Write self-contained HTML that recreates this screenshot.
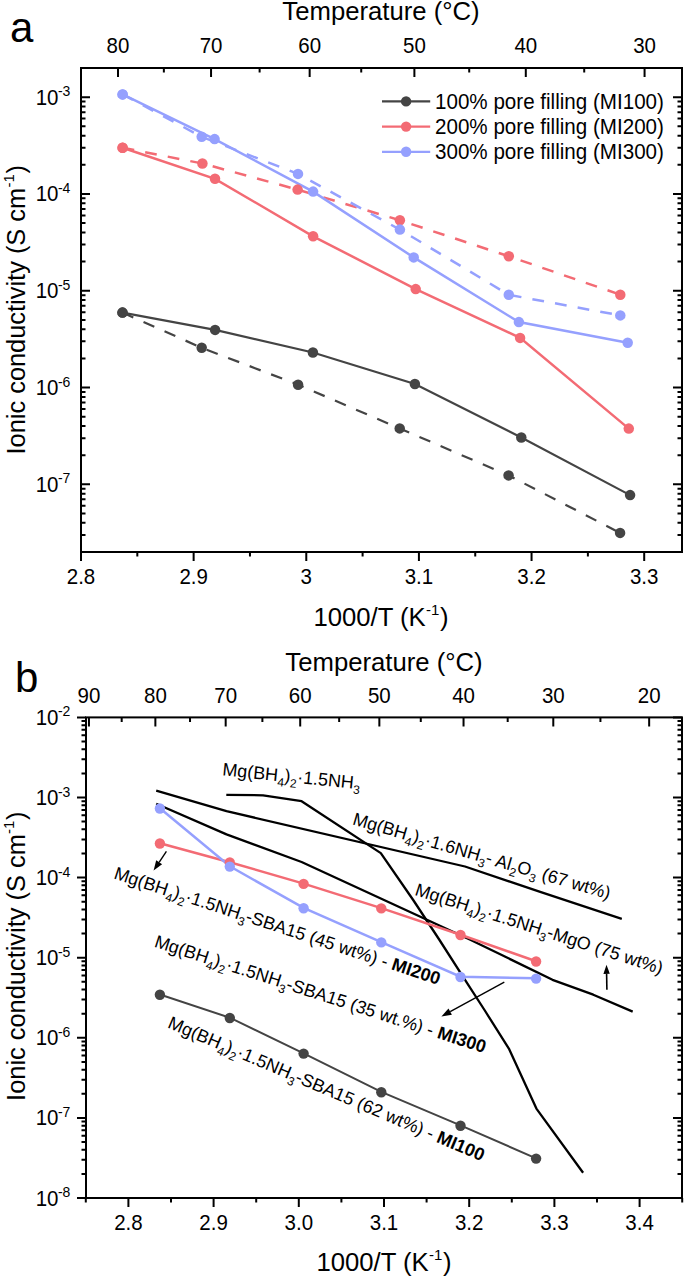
<!DOCTYPE html>
<html><head><meta charset="utf-8"><style>
html,body{margin:0;padding:0;background:#fff;}
svg{display:block;}
text{font-family:"Liberation Sans", sans-serif;fill:#000;}
.tl{font-size:20.5px;}
.sup{font-size:14px;}
.supt{font-size:15px;}
.ti{font-size:25.7px;}
.leg{font-size:20.6px;}
.panel{font-size:42px;}
.ann{font-size:17.95px;}
.sub{font-size:12px;}
</style></head><body>
<svg width="685" height="1278" viewBox="0 0 685 1278">
<rect width="685" height="1278" fill="#fff"/>
<rect x="81" y="68" width="601" height="484" fill="none" stroke="#000" stroke-width="2"/>
<path d="M81.00 552 v9 M137.32 552 v4.5 M193.64 552 v9 M249.96 552 v4.5 M306.28 552 v9 M362.60 552 v4.5 M418.92 552 v9 M475.24 552 v4.5 M531.56 552 v9 M587.88 552 v4.5 M644.20 552 v9 M118.01 68 v9 M163.86 68 v4.5 M211.05 68 v9 M259.62 68 v4.5 M309.66 68 v9 M361.23 68 v4.5 M414.39 68 v9 M469.22 68 v4.5 M525.80 68 v9 M584.22 68 v4.5 M644.57 68 v9 M81 552.00 h4.5 M682 552.00 h-4.5 M81 534.95 h4.5 M682 534.95 h-4.5 M81 522.86 h4.5 M682 522.86 h-4.5 M81 513.48 h4.5 M682 513.48 h-4.5 M81 505.81 h4.5 M682 505.81 h-4.5 M81 499.33 h4.5 M682 499.33 h-4.5 M81 493.72 h4.5 M682 493.72 h-4.5 M81 488.77 h4.5 M682 488.77 h-4.5 M81 484.34 h9 M682 484.34 h-9 M81 455.20 h4.5 M682 455.20 h-4.5 M81 438.15 h4.5 M682 438.15 h-4.5 M81 426.06 h4.5 M682 426.06 h-4.5 M81 416.68 h4.5 M682 416.68 h-4.5 M81 409.01 h4.5 M682 409.01 h-4.5 M81 402.53 h4.5 M682 402.53 h-4.5 M81 396.92 h4.5 M682 396.92 h-4.5 M81 391.97 h4.5 M682 391.97 h-4.5 M81 387.54 h9 M682 387.54 h-9 M81 358.40 h4.5 M682 358.40 h-4.5 M81 341.35 h4.5 M682 341.35 h-4.5 M81 329.26 h4.5 M682 329.26 h-4.5 M81 319.88 h4.5 M682 319.88 h-4.5 M81 312.21 h4.5 M682 312.21 h-4.5 M81 305.73 h4.5 M682 305.73 h-4.5 M81 300.12 h4.5 M682 300.12 h-4.5 M81 295.17 h4.5 M682 295.17 h-4.5 M81 290.74 h9 M682 290.74 h-9 M81 261.60 h4.5 M682 261.60 h-4.5 M81 244.55 h4.5 M682 244.55 h-4.5 M81 232.46 h4.5 M682 232.46 h-4.5 M81 223.08 h4.5 M682 223.08 h-4.5 M81 215.41 h4.5 M682 215.41 h-4.5 M81 208.93 h4.5 M682 208.93 h-4.5 M81 203.32 h4.5 M682 203.32 h-4.5 M81 198.37 h4.5 M682 198.37 h-4.5 M81 193.94 h9 M682 193.94 h-9 M81 164.80 h4.5 M682 164.80 h-4.5 M81 147.75 h4.5 M682 147.75 h-4.5 M81 135.66 h4.5 M682 135.66 h-4.5 M81 126.28 h4.5 M682 126.28 h-4.5 M81 118.61 h4.5 M682 118.61 h-4.5 M81 112.13 h4.5 M682 112.13 h-4.5 M81 106.52 h4.5 M682 106.52 h-4.5 M81 101.57 h4.5 M682 101.57 h-4.5 M81 97.14 h9 M682 97.14 h-9 M81 68.00 h4.5 M682 68.00 h-4.5" stroke="#000" stroke-width="2" fill="none"/>
<text transform="translate(81.00,584) scale(1,1.06)" text-anchor="middle" class="tl">2.8</text>
<text transform="translate(193.64,584) scale(1,1.06)" text-anchor="middle" class="tl">2.9</text>
<text transform="translate(306.28,584) scale(1,1.06)" text-anchor="middle" class="tl">3</text>
<text transform="translate(418.92,584) scale(1,1.06)" text-anchor="middle" class="tl">3.1</text>
<text transform="translate(531.56,584) scale(1,1.06)" text-anchor="middle" class="tl">3.2</text>
<text transform="translate(644.20,584) scale(1,1.06)" text-anchor="middle" class="tl">3.3</text>
<text transform="translate(118.01,53.3) scale(1,1.06)" text-anchor="middle" class="tl">80</text>
<text transform="translate(211.05,53.3) scale(1,1.06)" text-anchor="middle" class="tl">70</text>
<text transform="translate(309.66,53.3) scale(1,1.06)" text-anchor="middle" class="tl">60</text>
<text transform="translate(414.39,53.3) scale(1,1.06)" text-anchor="middle" class="tl">50</text>
<text transform="translate(525.80,53.3) scale(1,1.06)" text-anchor="middle" class="tl">40</text>
<text transform="translate(644.57,53.3) scale(1,1.06)" text-anchor="middle" class="tl">30</text>
<text transform="translate(35.7,491.84) scale(1,1.06)" class="tl">10<tspan class="sup" dx="-0.6" dy="-8">-7</tspan></text>
<text transform="translate(35.7,395.04) scale(1,1.06)" class="tl">10<tspan class="sup" dx="-0.6" dy="-8">-6</tspan></text>
<text transform="translate(35.7,298.24) scale(1,1.06)" class="tl">10<tspan class="sup" dx="-0.6" dy="-8">-5</tspan></text>
<text transform="translate(35.7,201.44) scale(1,1.06)" class="tl">10<tspan class="sup" dx="-0.6" dy="-8">-4</tspan></text>
<text transform="translate(35.7,104.64) scale(1,1.06)" class="tl">10<tspan class="sup" dx="-0.6" dy="-8">-3</tspan></text>
<text x="381" y="20" text-anchor="middle" class="ti">Temperature (°C)</text>
<text x="381" y="625.5" text-anchor="middle" class="ti">1000/T (K<tspan class="supt" dx="0.3" dy="-10.8">-1</tspan><tspan dx="0.6" dy="10.8">)</tspan></text>
<text transform="translate(25,309.8) rotate(-90)" text-anchor="middle" class="ti" style="font-size:25.4px">Ionic conductivity (S cm<tspan class="supt" dx="0.3" dy="-10.8">-1</tspan><tspan dx="0.6" dy="10.8">)</tspan></text>
<text x="10" y="42" class="panel">a</text>
<polyline points="122.5,312.6 215.1,329.9 312.9,352.5 414.9,384.0 521.3,437.5 630.1,495.1" fill="none" stroke="#444444" stroke-width="2.2"/>
<polyline points="122.5,312.6 201.7,347.8 298.1,384.7 399.7,428.4 508.6,475.4 620.1,532.9" fill="none" stroke="#444444" stroke-width="2.2" stroke-dasharray="11.8 11.2"/>
<polyline points="122.6,147.7 215.0,178.8 313.1,236.3 415.7,289.1 520.1,337.9 628.8,428.6" fill="none" stroke="#F36B74" stroke-width="2.5"/>
<polyline points="122.6,147.7 202.4,163.5 297.6,189.6 399.9,220.3 508.8,256.3 620.3,294.7" fill="none" stroke="#F36B74" stroke-width="2.5" stroke-dasharray="11.8 11.2"/>
<polyline points="122.6,94.4 214.6,139.1 313.1,191.6 413.7,257.4 518.9,322.1 627.7,342.7" fill="none" stroke="#95A0FE" stroke-width="2.5"/>
<polyline points="122.6,94.4 201.7,136.8 298.0,173.9 399.9,229.6 508.8,294.8 620.3,315.4" fill="none" stroke="#95A0FE" stroke-width="2.5" stroke-dasharray="11.8 11.2"/>
<circle cx="122.5" cy="312.6" r="5.25" fill="#444444"/>
<circle cx="215.1" cy="329.9" r="5.25" fill="#444444"/>
<circle cx="312.9" cy="352.5" r="5.25" fill="#444444"/>
<circle cx="414.9" cy="384.0" r="5.25" fill="#444444"/>
<circle cx="521.3" cy="437.5" r="5.25" fill="#444444"/>
<circle cx="630.1" cy="495.1" r="5.25" fill="#444444"/>
<circle cx="122.5" cy="312.6" r="5.25" fill="#444444"/>
<circle cx="201.7" cy="347.8" r="5.25" fill="#444444"/>
<circle cx="298.1" cy="384.7" r="5.25" fill="#444444"/>
<circle cx="399.7" cy="428.4" r="5.25" fill="#444444"/>
<circle cx="508.6" cy="475.4" r="5.25" fill="#444444"/>
<circle cx="620.1" cy="532.9" r="5.25" fill="#444444"/>
<circle cx="122.6" cy="147.7" r="5.25" fill="#F36B74"/>
<circle cx="215.0" cy="178.8" r="5.25" fill="#F36B74"/>
<circle cx="313.1" cy="236.3" r="5.25" fill="#F36B74"/>
<circle cx="415.7" cy="289.1" r="5.25" fill="#F36B74"/>
<circle cx="520.1" cy="337.9" r="5.25" fill="#F36B74"/>
<circle cx="628.8" cy="428.6" r="5.25" fill="#F36B74"/>
<circle cx="122.6" cy="147.7" r="5.25" fill="#F36B74"/>
<circle cx="202.4" cy="163.5" r="5.25" fill="#F36B74"/>
<circle cx="297.6" cy="189.6" r="5.25" fill="#F36B74"/>
<circle cx="399.9" cy="220.3" r="5.25" fill="#F36B74"/>
<circle cx="508.8" cy="256.3" r="5.25" fill="#F36B74"/>
<circle cx="620.3" cy="294.7" r="5.25" fill="#F36B74"/>
<circle cx="122.6" cy="94.4" r="5.25" fill="#95A0FE"/>
<circle cx="214.6" cy="139.1" r="5.25" fill="#95A0FE"/>
<circle cx="313.1" cy="191.6" r="5.25" fill="#95A0FE"/>
<circle cx="413.7" cy="257.4" r="5.25" fill="#95A0FE"/>
<circle cx="518.9" cy="322.1" r="5.25" fill="#95A0FE"/>
<circle cx="627.7" cy="342.7" r="5.25" fill="#95A0FE"/>
<circle cx="122.6" cy="94.4" r="5.25" fill="#95A0FE"/>
<circle cx="201.7" cy="136.8" r="5.25" fill="#95A0FE"/>
<circle cx="298.0" cy="173.9" r="5.25" fill="#95A0FE"/>
<circle cx="399.9" cy="229.6" r="5.25" fill="#95A0FE"/>
<circle cx="508.8" cy="294.8" r="5.25" fill="#95A0FE"/>
<circle cx="620.3" cy="315.4" r="5.25" fill="#95A0FE"/>
<line x1="382" y1="101.4" x2="430.2" y2="101.4" stroke="#444444" stroke-width="2.2"/>
<circle cx="406.1" cy="101.4" r="5.2" fill="#444444"/>
<text transform="translate(435,108.6) scale(1,1.06)" class="leg">100% pore filling (MI100)</text>
<line x1="382" y1="126.6" x2="430.2" y2="126.6" stroke="#F36B74" stroke-width="2.2"/>
<circle cx="406.1" cy="126.6" r="5.2" fill="#F36B74"/>
<text transform="translate(435,133.8) scale(1,1.06)" class="leg">200% pore filling (MI200)</text>
<line x1="382" y1="151.8" x2="430.2" y2="151.8" stroke="#95A0FE" stroke-width="2.2"/>
<circle cx="406.1" cy="151.8" r="5.2" fill="#95A0FE"/>
<text transform="translate(435,159.0) scale(1,1.06)" class="leg">300% pore filling (MI300)</text>
<rect x="86" y="717.4" width="596" height="480.6" fill="none" stroke="#000" stroke-width="2"/>
<path d="M85.80 1198 v4.5 M128.40 1198 v9 M171.00 1198 v4.5 M213.60 1198 v9 M256.20 1198 v4.5 M298.80 1198 v9 M341.40 1198 v4.5 M384.00 1198 v9 M426.60 1198 v4.5 M469.20 1198 v9 M511.80 1198 v4.5 M554.40 1198 v9 M597.00 1198 v4.5 M639.60 1198 v9 M682.20 1198 v4.5 M88.94 717.4 v9 M121.69 717.4 v4.5 M155.37 717.4 v9 M190.02 717.4 v4.5 M225.68 717.4 v9 M262.39 717.4 v4.5 M300.21 717.4 v9 M339.17 717.4 v4.5 M379.35 717.4 v9 M420.78 717.4 v4.5 M463.54 717.4 v9 M507.69 717.4 v4.5 M553.29 717.4 v9 M600.42 717.4 v4.5 M649.16 717.4 v9 M86 1198.00 h-9 M682 1198.00 h-9 M86 1173.89 h-4.5 M682 1173.89 h-4.5 M86 1159.78 h-4.5 M682 1159.78 h-4.5 M86 1149.77 h-4.5 M682 1149.77 h-4.5 M86 1142.01 h-4.5 M682 1142.01 h-4.5 M86 1135.67 h-4.5 M682 1135.67 h-4.5 M86 1130.31 h-4.5 M682 1130.31 h-4.5 M86 1125.66 h-4.5 M682 1125.66 h-4.5 M86 1121.57 h-4.5 M682 1121.57 h-4.5 M86 1117.90 h-9 M682 1117.90 h-9 M86 1093.79 h-4.5 M682 1093.79 h-4.5 M86 1079.68 h-4.5 M682 1079.68 h-4.5 M86 1069.67 h-4.5 M682 1069.67 h-4.5 M86 1061.91 h-4.5 M682 1061.91 h-4.5 M86 1055.57 h-4.5 M682 1055.57 h-4.5 M86 1050.21 h-4.5 M682 1050.21 h-4.5 M86 1045.56 h-4.5 M682 1045.56 h-4.5 M86 1041.47 h-4.5 M682 1041.47 h-4.5 M86 1037.80 h-9 M682 1037.80 h-9 M86 1013.69 h-4.5 M682 1013.69 h-4.5 M86 999.58 h-4.5 M682 999.58 h-4.5 M86 989.57 h-4.5 M682 989.57 h-4.5 M86 981.81 h-4.5 M682 981.81 h-4.5 M86 975.47 h-4.5 M682 975.47 h-4.5 M86 970.11 h-4.5 M682 970.11 h-4.5 M86 965.46 h-4.5 M682 965.46 h-4.5 M86 961.37 h-4.5 M682 961.37 h-4.5 M86 957.70 h-9 M682 957.70 h-9 M86 933.59 h-4.5 M682 933.59 h-4.5 M86 919.48 h-4.5 M682 919.48 h-4.5 M86 909.47 h-4.5 M682 909.47 h-4.5 M86 901.71 h-4.5 M682 901.71 h-4.5 M86 895.37 h-4.5 M682 895.37 h-4.5 M86 890.01 h-4.5 M682 890.01 h-4.5 M86 885.36 h-4.5 M682 885.36 h-4.5 M86 881.27 h-4.5 M682 881.27 h-4.5 M86 877.60 h-9 M682 877.60 h-9 M86 853.49 h-4.5 M682 853.49 h-4.5 M86 839.38 h-4.5 M682 839.38 h-4.5 M86 829.37 h-4.5 M682 829.37 h-4.5 M86 821.61 h-4.5 M682 821.61 h-4.5 M86 815.27 h-4.5 M682 815.27 h-4.5 M86 809.91 h-4.5 M682 809.91 h-4.5 M86 805.26 h-4.5 M682 805.26 h-4.5 M86 801.17 h-4.5 M682 801.17 h-4.5 M86 797.50 h-9 M682 797.50 h-9 M86 773.39 h-4.5 M682 773.39 h-4.5 M86 759.28 h-4.5 M682 759.28 h-4.5 M86 749.27 h-4.5 M682 749.27 h-4.5 M86 741.51 h-4.5 M682 741.51 h-4.5 M86 735.17 h-4.5 M682 735.17 h-4.5 M86 729.81 h-4.5 M682 729.81 h-4.5 M86 725.16 h-4.5 M682 725.16 h-4.5 M86 721.07 h-4.5 M682 721.07 h-4.5 M86 717.40 h-9 M682 717.40 h-9" stroke="#000" stroke-width="2" fill="none"/>
<text transform="translate(128.40,1229.5) scale(1,1.06)" text-anchor="middle" class="tl">2.8</text>
<text transform="translate(213.60,1229.5) scale(1,1.06)" text-anchor="middle" class="tl">2.9</text>
<text transform="translate(298.80,1229.5) scale(1,1.06)" text-anchor="middle" class="tl">3.0</text>
<text transform="translate(384.00,1229.5) scale(1,1.06)" text-anchor="middle" class="tl">3.1</text>
<text transform="translate(469.20,1229.5) scale(1,1.06)" text-anchor="middle" class="tl">3.2</text>
<text transform="translate(554.40,1229.5) scale(1,1.06)" text-anchor="middle" class="tl">3.3</text>
<text transform="translate(639.60,1229.5) scale(1,1.06)" text-anchor="middle" class="tl">3.4</text>
<text transform="translate(88.94,702.6) scale(1,1.06)" text-anchor="middle" class="tl">90</text>
<text transform="translate(155.37,702.6) scale(1,1.06)" text-anchor="middle" class="tl">80</text>
<text transform="translate(225.68,702.6) scale(1,1.06)" text-anchor="middle" class="tl">70</text>
<text transform="translate(300.21,702.6) scale(1,1.06)" text-anchor="middle" class="tl">60</text>
<text transform="translate(379.35,702.6) scale(1,1.06)" text-anchor="middle" class="tl">50</text>
<text transform="translate(463.54,702.6) scale(1,1.06)" text-anchor="middle" class="tl">40</text>
<text transform="translate(553.29,702.6) scale(1,1.06)" text-anchor="middle" class="tl">30</text>
<text transform="translate(649.16,702.6) scale(1,1.06)" text-anchor="middle" class="tl">20</text>
<text transform="translate(35.7,1205.50) scale(1,1.06)" class="tl">10<tspan class="sup" dx="-0.6" dy="-8">-8</tspan></text>
<text transform="translate(35.7,1125.40) scale(1,1.06)" class="tl">10<tspan class="sup" dx="-0.6" dy="-8">-7</tspan></text>
<text transform="translate(35.7,1045.30) scale(1,1.06)" class="tl">10<tspan class="sup" dx="-0.6" dy="-8">-6</tspan></text>
<text transform="translate(35.7,965.20) scale(1,1.06)" class="tl">10<tspan class="sup" dx="-0.6" dy="-8">-5</tspan></text>
<text transform="translate(35.7,885.10) scale(1,1.06)" class="tl">10<tspan class="sup" dx="-0.6" dy="-8">-4</tspan></text>
<text transform="translate(35.7,805.00) scale(1,1.06)" class="tl">10<tspan class="sup" dx="-0.6" dy="-8">-3</tspan></text>
<text transform="translate(35.7,724.90) scale(1,1.06)" class="tl">10<tspan class="sup" dx="-0.6" dy="-8">-2</tspan></text>
<text x="384" y="670.5" text-anchor="middle" class="ti">Temperature (°C)</text>
<text x="384" y="1270.8" text-anchor="middle" class="ti">1000/T (K<tspan class="supt" dx="0.3" dy="-10.8">-1</tspan><tspan dx="0.6" dy="10.8">)</tspan></text>
<text transform="translate(25,956.2) rotate(-90)" text-anchor="middle" class="ti" style="font-size:25.4px">Ionic conductivity (S cm<tspan class="supt" dx="0.3" dy="-10.8">-1</tspan><tspan dx="0.6" dy="10.8">)</tspan></text>
<text x="15" y="691.6" class="panel">b</text>
<polyline points="156.2,790.6 226.5,811.2 465.0,866.5 540.2,891.9 621.8,918.8" fill="none" stroke="#000" stroke-width="2.3" stroke-linejoin="round"/>
<polyline points="156.2,803.7 226.5,834.4 301.6,862.0 469.2,939.2 552.5,979.8 593.3,994.7 632.7,1011.6" fill="none" stroke="#000" stroke-width="2.3" stroke-linejoin="round"/>
<polyline points="226.3,794.9 263.1,795.3 301.6,801.2 380.8,853.1 413.2,900.0 439.5,940.0 464.7,979.3 484.5,1010.0 509.2,1049.2 536.4,1108.6 583.1,1172.8" fill="none" stroke="#000" stroke-width="2.3" stroke-linejoin="round"/>
<polyline points="159.9,994.5 229.8,1017.7 303.6,1053.3 381.3,1091.9 460.5,1125.4 536.1,1158.3" fill="none" stroke="#444444" stroke-width="2.0"/>
<polyline points="159.9,843.2 229.8,862.2 303.6,883.6 381.3,908.1 460.5,934.7 536.1,961.2" fill="none" stroke="#F36B74" stroke-width="2.5"/>
<polyline points="159.9,808.2 229.8,866.3 303.6,907.9 381.3,942.1 460.5,976.7 536.1,978.3" fill="none" stroke="#95A0FE" stroke-width="2.5"/>
<circle cx="159.9" cy="994.8" r="5.2" fill="#444444"/>
<circle cx="229.8" cy="1018.0" r="5.2" fill="#444444"/>
<circle cx="303.6" cy="1053.6" r="5.2" fill="#444444"/>
<circle cx="381.3" cy="1092.2" r="5.2" fill="#444444"/>
<circle cx="460.5" cy="1125.7" r="5.2" fill="#444444"/>
<circle cx="536.1" cy="1158.6" r="5.2" fill="#444444"/>
<circle cx="159.9" cy="843.5" r="5.2" fill="#F36B74"/>
<circle cx="229.8" cy="862.5" r="5.2" fill="#F36B74"/>
<circle cx="303.6" cy="883.9" r="5.2" fill="#F36B74"/>
<circle cx="381.3" cy="908.4" r="5.2" fill="#F36B74"/>
<circle cx="460.5" cy="935.0" r="5.2" fill="#F36B74"/>
<circle cx="536.1" cy="961.5" r="5.2" fill="#F36B74"/>
<circle cx="159.9" cy="808.5" r="5.2" fill="#95A0FE"/>
<circle cx="229.8" cy="866.6" r="5.2" fill="#95A0FE"/>
<circle cx="303.6" cy="908.2" r="5.2" fill="#95A0FE"/>
<circle cx="381.3" cy="942.4" r="5.2" fill="#95A0FE"/>
<circle cx="460.5" cy="977.0" r="5.2" fill="#95A0FE"/>
<circle cx="536.1" cy="978.6" r="5.2" fill="#95A0FE"/>
<line x1="166.4" y1="851.4" x2="159.1" y2="862.3" stroke="#000" stroke-width="1.4"/>
<path d="M153.6 870.6 L156.2 860.3 L162.1 864.3 Z" fill="#000"/>
<line x1="504.3" y1="982.1" x2="450.2" y2="1011.7" stroke="#000" stroke-width="1.4"/>
<path d="M441.4 1016.5 L448.5 1008.6 L451.9 1014.8 Z" fill="#000"/>
<line x1="606.9" y1="989.8" x2="606.6" y2="973.8" stroke="#000" stroke-width="1.6"/>
<path d="M606.5 964.8 L609.8 973.7 L603.4 973.9 Z" fill="#000"/>
<text transform="translate(221.9,775.3) rotate(5.8)" class="ann">Mg(BH<tspan class="sub" dy="5">4</tspan><tspan dy="-5">)</tspan><tspan class="sub" dy="5">2</tspan><tspan dy="-5">·1.</tspan>5NH<tspan class="sub" dy="5">3</tspan><tspan dy="-5"></tspan></text>
<text transform="translate(351.65,824.2) rotate(16.3)" class="ann">Mg(BH<tspan class="sub" dy="5">4</tspan><tspan dy="-5">)</tspan><tspan class="sub" dy="5">2</tspan><tspan dy="-5">·1.</tspan>6NH<tspan class="sub" dy="5">3</tspan><tspan dy="-5">- Al</tspan><tspan class="sub" dy="5">2</tspan><tspan dy="-5">O</tspan><tspan class="sub" dy="5">3</tspan><tspan dy="-5"> (67 wt%)</tspan></text>
<text transform="translate(414,894.7) rotate(17.9)" class="ann">Mg(BH<tspan class="sub" dy="5">4</tspan><tspan dy="-5">)</tspan><tspan class="sub" dy="5">2</tspan><tspan dy="-5">·1.</tspan>5NH<tspan class="sub" dy="5">3</tspan><tspan dy="-5">-MgO (75 wt%)</tspan></text>
<text transform="translate(112.9,878.3) rotate(18.15)" class="ann">Mg(BH<tspan class="sub" dy="5">4</tspan><tspan dy="-5">)</tspan><tspan class="sub" dy="5">2</tspan><tspan dy="-5">·1.</tspan>5NH<tspan class="sub" dy="5">3</tspan><tspan dy="-5">-SBA15 (45 wt%) - <tspan font-weight="bold">MI200</tspan></tspan></text>
<text transform="translate(153.4,946.5) rotate(17.9)" class="ann">Mg(BH<tspan class="sub" dy="5">4</tspan><tspan dy="-5">)</tspan><tspan class="sub" dy="5">2</tspan><tspan dy="-5">·1.</tspan>5NH<tspan class="sub" dy="5">3</tspan><tspan dy="-5">-SBA15 (35 wt.%) - <tspan font-weight="bold">MI300</tspan></tspan></text>
<text transform="translate(166.7,1027.3) rotate(23.07)" class="ann">Mg(BH<tspan class="sub" dy="5">4</tspan><tspan dy="-5">)</tspan><tspan class="sub" dy="5">2</tspan><tspan dy="-5">·1.</tspan>5NH<tspan class="sub" dy="5">3</tspan><tspan dy="-5">-SBA15 (62 wt%) - <tspan font-weight="bold">MI100</tspan></tspan></text>
</svg>
</body></html>
